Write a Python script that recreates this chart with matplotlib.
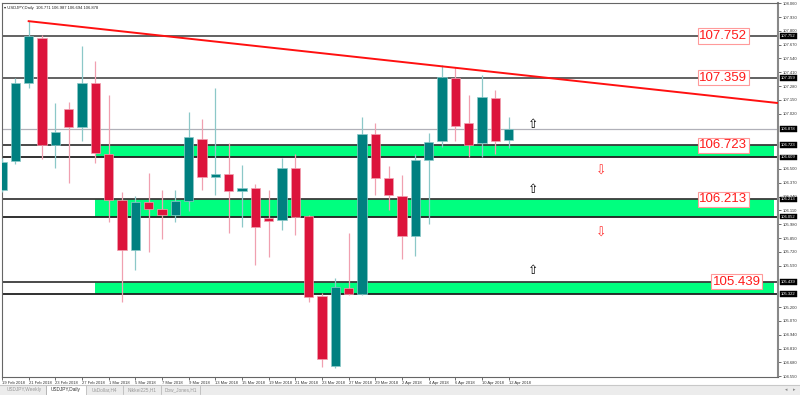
import matplotlib.pyplot as plt
from matplotlib.patches import Rectangle
from matplotlib.transforms import blended_transform_factory

# daily bars 19 Feb 2018 .. 12 Apr 2018
opens = [106.300, 106.574, 107.307, 107.731, 106.724, 107.063, 106.894, 107.307, 106.640, 106.207,
         105.740, 106.190, 106.120, 106.070, 106.200, 106.781, 106.423, 106.451, 106.291, 106.320,
         106.037, 106.019, 106.508, 106.057, 105.304, 104.645, 105.378, 105.322, 106.828, 106.414,
         106.244, 105.868, 106.583, 106.762, 107.354, 106.931, 106.743, 107.166, 106.771]
highs = [106.600, 107.354, 107.891, 107.760, 107.119, 107.129, 107.656, 107.514, 107.195, 106.282,
         106.250, 106.461, 106.300, 106.300, 107.035, 106.969, 107.260, 106.743, 106.536, 106.357,
         106.301, 106.602, 106.640, 106.070, 105.331, 105.473, 105.896, 106.988, 106.931, 106.527,
         106.442, 106.640, 106.837, 107.477, 107.458, 107.195, 107.383, 107.242, 106.987]
lows = [106.280, 106.546, 107.260, 106.592, 106.508, 106.367, 106.762, 106.555, 106.000, 105.250,
        105.550, 105.720, 105.840, 106.000, 106.100, 106.301, 106.254, 105.900, 105.950, 105.595,
        105.671, 105.925, 105.878, 105.247, 104.636, 104.627, 105.310, 105.310, 106.254, 106.113,
        105.652, 105.680, 105.981, 106.705, 106.762, 106.611, 106.611, 106.640, 106.694]
closes = [106.564, 107.307, 107.750, 106.724, 106.847, 106.894, 107.307, 106.649, 106.207, 105.740,
          106.190, 106.120, 106.070, 106.200, 106.800, 106.423, 106.451, 106.291, 106.320, 105.953,
          106.009, 106.508, 106.047, 105.294, 104.711, 105.388, 105.322, 106.828, 106.414, 106.254,
          105.868, 106.583, 106.752, 107.364, 106.903, 106.724, 107.176, 106.762, 106.878]

date_labels = ['19 Feb 2018', '21 Feb 2018', '23 Feb 2018', '27 Feb 2018', '1 Mar 2018',
               '5 Mar 2018', '7 Mar 2018', '9 Mar 2018', '13 Mar 2018', '15 Mar 2018',
               '19 Mar 2018', '21 Mar 2018', '23 Mar 2018', '27 Mar 2018', '29 Mar 2018',
               '2 Apr 2018', '4 Apr 2018', '6 Apr 2018', '10 Apr 2018', '12 Apr 2018']

price_ticks = [104.550, 104.680, 104.810, 104.940, 105.070, 105.200, 105.590, 105.720, 105.850,
               105.980, 106.110, 106.240, 106.370, 106.500, 107.020, 107.150, 107.280, 107.410,
               107.540, 107.670, 107.800, 107.930, 108.060]

# resistance lines
levels = [107.752, 107.359]
# support zones (top, bottom)
zone_tops = [106.723, 106.213, 105.439]
zone_bottoms = [106.609, 106.052, 105.322]
zone_start = 7
bid = 106.878

# descending trendline
trend_x = [2, 58.3]
trend_y = [107.891, 107.119]

# arrows
up_x = [39.8, 39.8, 39.8]
up_y = [106.922, 106.310, 105.548]
down_x = [44.9, 44.9]
down_y = [106.480, 105.900]

# boxed labels: value, right edge (bar units)
box_values = [107.752, 107.359, 106.723, 106.213, 105.439]
box_right = [55.9, 55.9, 55.9, 55.9, 56.9]

tabs = ['USDJPY,Weekly', 'USDJPY,Daily', 'UsDollar,H4', 'Nikkei225,H1', 'Dow_Jones,H1']
tab_edges = [2, 46, 86, 123, 161, 200]

TEAL = '#008080'
RED = '#DC143C'
GREEN = '#00FF7F'
SMALL = 'Liberation Sans'

fig = plt.figure(figsize=(8, 3.95), dpi=100)
ax = fig.add_axes([2 / 800, 18 / 395, 776 / 800, 374 / 395])
xmax = 58.2
ax.set_xlim(0, xmax)
ax.set_ylim(104.542, 108.062)

# zones
for top, bot in zip(zone_tops, zone_bottoms):
    ax.add_patch(Rectangle((zone_start, bot), 57.9 - zone_start, top - bot,
                           fc=GREEN, ec='none', zorder=1))
    ax.axhline(top, color='#3a3a3a', lw=1.3, zorder=2)
    ax.axhline(bot, color='#202020', lw=1.3, zorder=2)

for lv in levels:
    ax.axhline(lv, color='#555555', lw=1.3, zorder=2)
ax.axhline(bid, color='#b0b0b8', lw=0.9, zorder=2)

# candles
for i, (o, h, l, c) in enumerate(zip(opens, highs, lows, closes)):
    col = TEAL if c >= o else RED
    wick = '#8cc8c8' if c >= o else '#f0a0b0'
    ax.plot([i, i], [l, h], color=wick, lw=0.9, zorder=3, solid_capstyle='butt')
    body = max(abs(c - o), 0.008)
    ax.add_patch(Rectangle((i - 0.36, min(o, c)), 0.72, body, fc=col,
                           ec=wick, lw=0.5, zorder=4))

ax.plot(trend_x, trend_y, color='#FF1010', lw=1.4, zorder=5, clip_on=True)

for x, y in zip(up_x, up_y):
    ax.text(x, y, '\u21e7', fontsize=9, color='black', ha='center', va='center', zorder=6)
for x, y in zip(down_x, down_y):
    ax.text(x, y, '\u21e9', fontsize=9, color='#FF3030', ha='center', va='center', zorder=6)

for v, xr in zip(box_values, box_right):
    ax.text(xr, v, f'{v:.3f}', fontsize=9.5, family='Liberation Sans', color='#FF1a1a',
            ha='right', va='center', zorder=7,
            bbox=dict(boxstyle='square,pad=0.12', fc='white', ec='#FF9a9a', lw=0.8))

# axis styling
ax.yaxis.tick_right()
ax.set_yticks(price_ticks)
ax.set_yticklabels([f'{t:.3f}' for t in price_ticks], family=SMALL)
ax.tick_params(axis='y', labelsize=3.0, length=2, width=0.5, pad=1.5, colors='#333333')
ax.set_xticks(range(0, 39, 2))
ax.set_xticklabels(date_labels, ha='left', family=SMALL)
ax.tick_params(axis='x', labelsize=3.0, length=2, width=0.5, pad=1.0, colors='#333333')
for lab in ax.get_xticklabels():
    lab.set_horizontalalignment('left')
for s in ['left', 'top', 'bottom']:
    ax.spines[s].set_color('#666666')
    ax.spines[s].set_linewidth(0.8)
ax.spines['right'].set_color('#888888')
ax.spines['right'].set_linewidth(1.5)

# black price tags on right scale
tr = blended_transform_factory(ax.transAxes, ax.transData)
tags = levels + [bid] + [v for pair in zip(zone_tops, zone_bottoms) for v in pair]
for v in tags:
    ax.text(1.004, v, f'{v:.3f}', transform=tr, fontsize=3.0, family=SMALL, color='white',
            ha='left', va='center', clip_on=False, zorder=8,
            bbox=dict(boxstyle='square,pad=0.2', fc='black', ec='black', lw=0.3))

ax.text(0.003, 0.993, '\u25be USDJPY,Daily  106.771 106.987 106.694 106.878',
        transform=ax.transAxes, fontsize=3.0, family=[SMALL, 'DejaVu Sans'],
        color='#222222', ha='left', va='top')

# tab bar
fig.patches.append(Rectangle((0, 0), 1, 10 / 395, transform=fig.transFigure,
                             fc='#ececec', ec='none', zorder=0))
fig.add_artist(plt.Line2D([0, 1], [10 / 395, 10 / 395], transform=fig.transFigure,
                          color='#c8c8c8', lw=0.8))
for k, name in enumerate(tabs):
    x0, x1 = tab_edges[k], tab_edges[k + 1]
    if name == 'USDJPY,Daily':
        fig.patches.append(Rectangle((x0 / 800, 0), (x1 - x0) / 800, 10.5 / 395,
                                     transform=fig.transFigure, fc='white',
                                     ec='#b0b0b0', lw=0.5, zorder=1))
    else:
        fig.add_artist(plt.Line2D([x1 / 800, x1 / 800], [1 / 395, 9 / 395],
                                  transform=fig.transFigure, color='#b0b0b0', lw=0.5))
    fig.text((x0 + x1) / 2 / 800, 5 / 395, name, fontsize=3.4, family=SMALL,
             color='#333333' if name == 'USDJPY,Daily' else '#999999',
             ha='center', va='center', zorder=2)
fig.text(786 / 800, 5 / 395, '\u25c2', fontsize=3.5, color='#888888', ha='center', va='center')
fig.text(794 / 800, 5 / 395, '\u25b8', fontsize=3.5, color='#888888', ha='center', va='center')

fig.savefig('out.png', dpi=100)
